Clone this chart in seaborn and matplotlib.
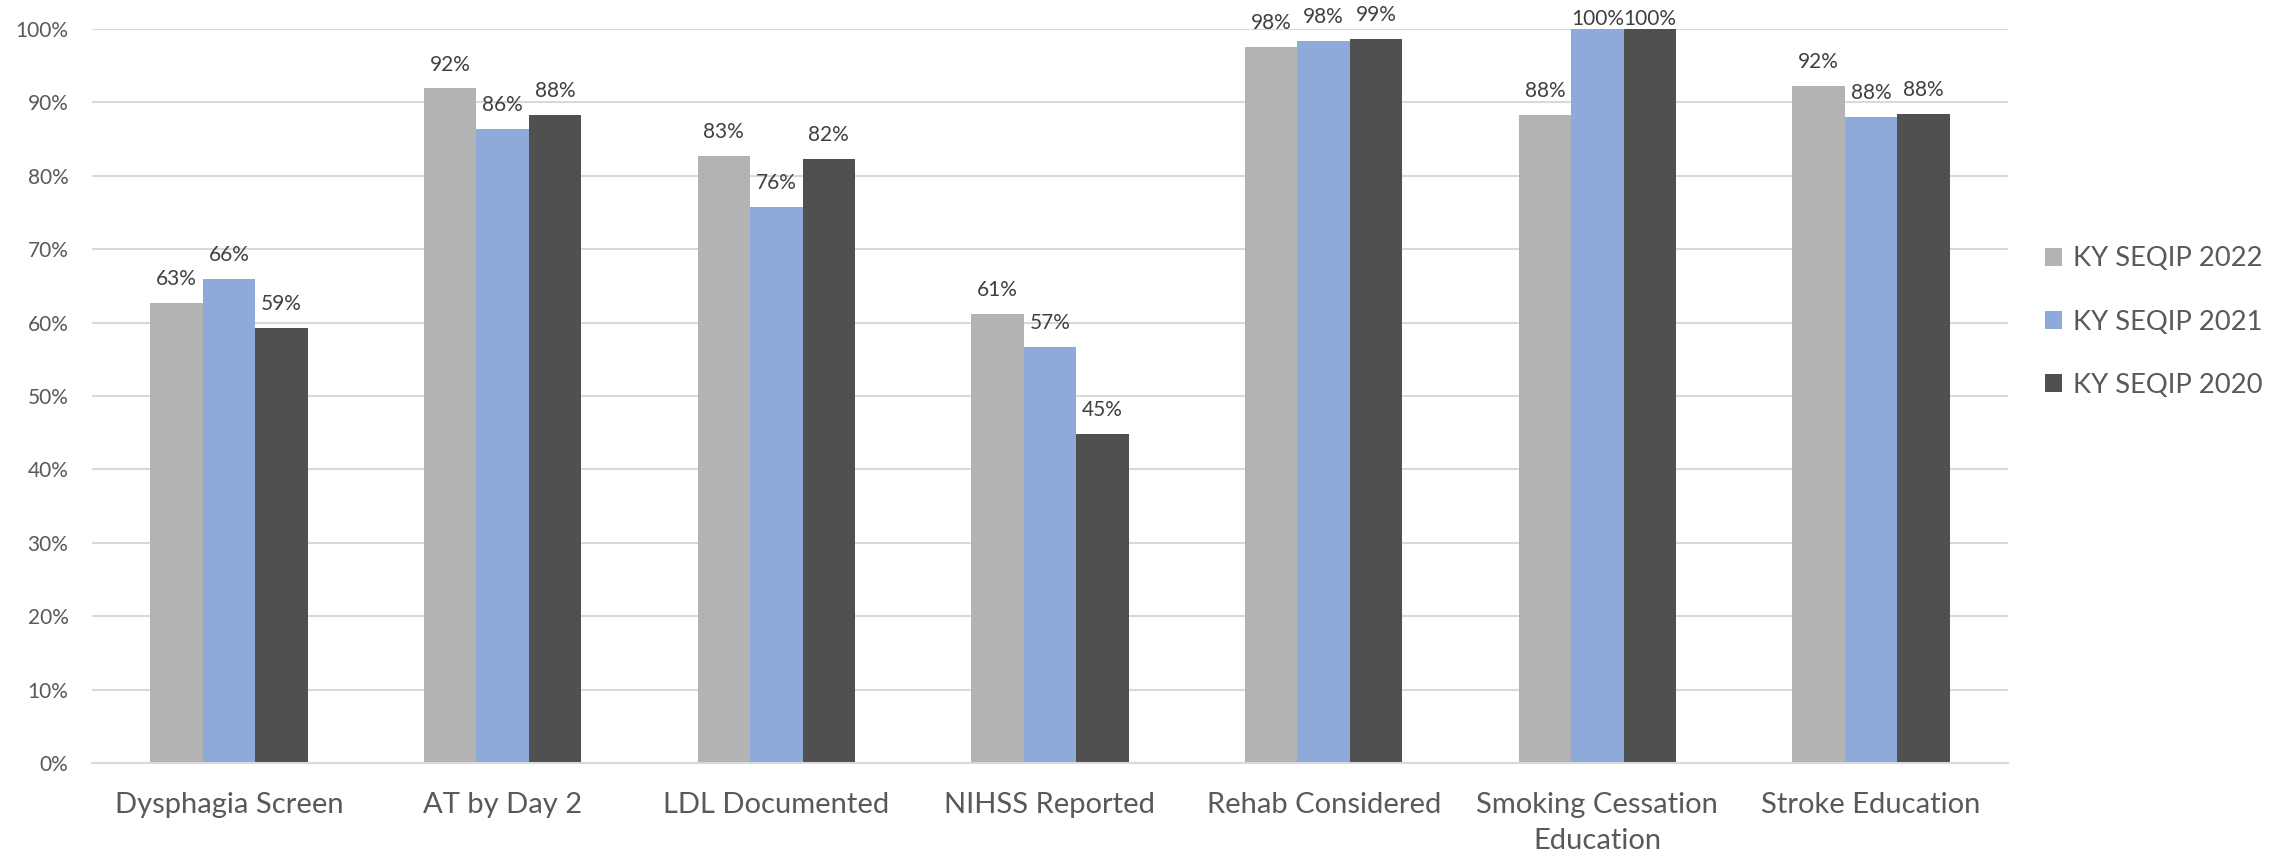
import matplotlib
matplotlib.use("Agg")
import matplotlib.pyplot as plt
import seaborn as sns
import pandas as pd
from matplotlib.ticker import PercentFormatter

# Quality measures and yearly compliance rates (%)
categories = [
    "Dysphagia Screen",
    "AT by Day 2",
    "LDL Documented",
    "NIHSS Reported",
    "Rehab Considered",
    "Smoking Cessation\nEducation",
    "Stroke Education",
]
series_names = ["KY SEQIP 2022", "KY SEQIP 2021", "KY SEQIP 2020"]
values_2022 = [62.7, 91.9, 82.7, 61.2, 97.6, 88.3, 92.3]
values_2021 = [65.9, 86.4, 75.8, 56.7, 98.4, 100.0, 88.0]
values_2020 = [59.3, 88.3, 82.3, 44.8, 98.6, 100.0, 88.4]
colors = ["#b3b3b3", "#8eaadb", "#505050"]

df = pd.DataFrame({
    "measure": categories * 3,
    "series": [s for s in series_names for _ in categories],
    "value": values_2022 + values_2021 + values_2020,
})

sns.set_theme(style="white")
plt.rcParams["font.family"] = ["Lato", "DejaVu Sans"]
text_color = "#595959"

fig = plt.figure(figsize=(22.85, 8.58), dpi=100)
ax = fig.add_axes([92 / 2285, 1 - 763 / 858, (2008 - 92) / 2285, (763 - 29) / 858])

sns.barplot(
    data=df, x="measure", y="value", hue="series",
    hue_order=series_names, order=categories,
    palette=colors, width=0.575, saturation=1, ax=ax,
    legend=True, linewidth=0,
)

# Labels of full-height bars sit tight against the top so they stay inside the figure
for container in ax.containers:
    vals = container.datavalues
    anns = ax.bar_label(container, labels=[f"{v:.0f}%" for v in vals],
                        padding=10, fontsize=15, color="#404040")
    for ann, v in zip(anns, vals):
        if v >= 99.5:
            ann.xyann = (0, 0)

ax.set_ylim(0, 100)
ax.set_yticks(range(0, 101, 10))
ax.yaxis.set_major_formatter(PercentFormatter(decimals=0))
ax.set_xlim(-0.5, len(categories) - 0.5)
ax.grid(axis="y", color="#d9d9d9", linewidth=1.5)
ax.set_axisbelow(True)
for side in ["top", "right", "left"]:
    ax.spines[side].set_visible(False)
ax.spines["bottom"].set_color("#d9d9d9")
ax.spines["bottom"].set_linewidth(1.5)
ax.set_xlabel("")
ax.set_ylabel("")
ax.tick_params(axis="y", length=0, pad=17, labelsize=15, labelcolor=text_color)
ax.tick_params(axis="x", length=0, pad=21, labelsize=21, labelcolor=text_color)
for lbl in ax.get_xticklabels():
    lbl.set_linespacing(1.45)

handles, labels = ax.get_legend_handles_labels()
ax.get_legend().remove()
fig.legend(
    handles, labels, loc="center left", bbox_to_anchor=(2020 / 2285, 1 - 322 / 858),
    frameon=False, fontsize=19.7, labelcolor=text_color,
    handlelength=0.65, handleheight=0.65, handletextpad=0.4, labelspacing=1.39,
)

fig.savefig("out.png", dpi=100)
